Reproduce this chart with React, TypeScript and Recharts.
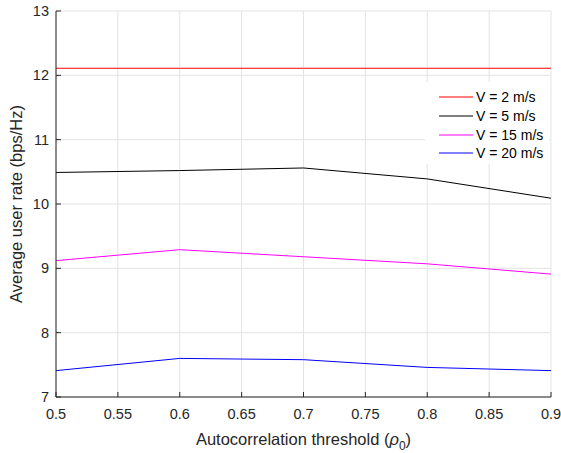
import React from "react";
import {
  LineChart,
  Line,
  XAxis,
  YAxis,
  CartesianGrid,
  Legend,
} from "recharts";

// autocorrelation threshold values (x axis)
const thresholds = [0.5, 0.6, 0.7, 0.8, 0.9];
const rateV2 = [12.11, 12.11, 12.11, 12.11, 12.11];
const rateV5 = [10.49, 10.52, 10.56, 10.39, 10.09];
const rateV15 = [9.12, 9.29, 9.18, 9.07, 8.91];
const rateV20 = [7.41, 7.6, 7.58, 7.46, 7.41];

const xTicks = [0.5, 0.55, 0.6, 0.65, 0.7, 0.75, 0.8, 0.85, 0.9];
const yTicks = [7, 8, 9, 10, 11, 12, 13];

const seriesNames = ["V = 2 m/s", "V = 5 m/s", "V = 15 m/s", "V = 20 m/s"];
const seriesColors = ["#ff0000", "#000000", "#ff00ff", "#0000ff"];

const data = thresholds.map((t, i) => ({
  rho: t,
  v2: rateV2[i],
  v5: rateV5[i],
  v15: rateV15[i],
  v20: rateV20[i],
}));

const FONT = "'Liberation Sans', Arial, Helvetica, sans-serif";
const AXIS_COLOR = "#262626";

function LegendBox() {
  return (
    <div
      style={{
        background: "#fff",
        width: 124,
        height: 82,
        paddingTop: 6,
        boxSizing: "border-box",
        fontFamily: FONT,
        fontSize: 14,
        color: "#000",
      }}
    >
      {seriesNames.map((name, i) => (
        <div
          key={name}
          style={{ display: "flex", alignItems: "center", height: 18.7 }}
        >
          <svg width={34} height={4} style={{ marginLeft: 14, display: "block" }}>
            <line x1={0} y1={2} x2={34} y2={2} stroke={seriesColors[i]} strokeWidth={1.2} />
          </svg>
          <span style={{ marginLeft: 3, whiteSpace: "nowrap" }}>{name}</span>
        </div>
      ))}
    </div>
  );
}

function XLabel({ viewBox }: any) {
  const cx = viewBox.x + viewBox.width / 2;
  const y = viewBox.y + 48;
  return (
    <text
      x={cx}
      y={y}
      textAnchor="middle"
      fill={AXIS_COLOR}
      fontFamily={FONT}
      fontSize={16.5}
    >
      Autocorrelation threshold (
      <tspan fontStyle="italic">ρ</tspan>
      <tspan fontSize={12} dy={5}>0</tspan>
      <tspan dy={-5}>)</tspan>
    </text>
  );
}

export default function App() {
  return (
    <div style={{ position: "absolute", left: 0, top: 0, background: "#fff" }}>
      <LineChart
        width={561}
        height={453}
        data={data}
        margin={{ top: 11, right: 10, left: 0, bottom: 0 }}
      >
        <CartesianGrid stroke="#e3e3e3" strokeWidth={1} />
        <XAxis
          dataKey="rho"
          type="number"
          domain={[0.5, 0.9]}
          ticks={xTicks}
          height={56}
          stroke={AXIS_COLOR}
          tickSize={-5}
          tickMargin={17}
          tick={{ fill: AXIS_COLOR, fontSize: 14.5, fontFamily: FONT }}
          label={<XLabel />}
        />
        <YAxis
          type="number"
          domain={[7, 13]}
          ticks={yTicks}
          width={56}
          stroke={AXIS_COLOR}
          tickSize={-5}
          tickMargin={12}
          tick={{ fill: AXIS_COLOR, fontSize: 14.5, fontFamily: FONT }}
          label={{
            value: "Average user rate (bps/Hz)",
            angle: -90,
            position: "insideLeft",
            offset: 16,
            style: {
              textAnchor: "middle",
              fill: AXIS_COLOR,
              fontFamily: FONT,
              fontSize: 16.5,
            },
          }}
        />
        <Legend
          content={<LegendBox />}
          layout="horizontal"
          align="center"
          verticalAlign="middle"
          wrapperStyle={{ left: 425, top: 82, width: 124, height: 82 }}
        />
        <Line
          dataKey="v2"
          name={seriesNames[0]}
          stroke={seriesColors[0]}
          strokeWidth={1}
          dot={false}
          isAnimationActive={false}
        />
        <Line
          dataKey="v5"
          name={seriesNames[1]}
          stroke={seriesColors[1]}
          strokeWidth={1}
          dot={false}
          isAnimationActive={false}
        />
        <Line
          dataKey="v15"
          name={seriesNames[2]}
          stroke={seriesColors[2]}
          strokeWidth={1}
          dot={false}
          isAnimationActive={false}
        />
        <Line
          dataKey="v20"
          name={seriesNames[3]}
          stroke={seriesColors[3]}
          strokeWidth={1}
          dot={false}
          isAnimationActive={false}
        />
      </LineChart>
    </div>
  );
}
